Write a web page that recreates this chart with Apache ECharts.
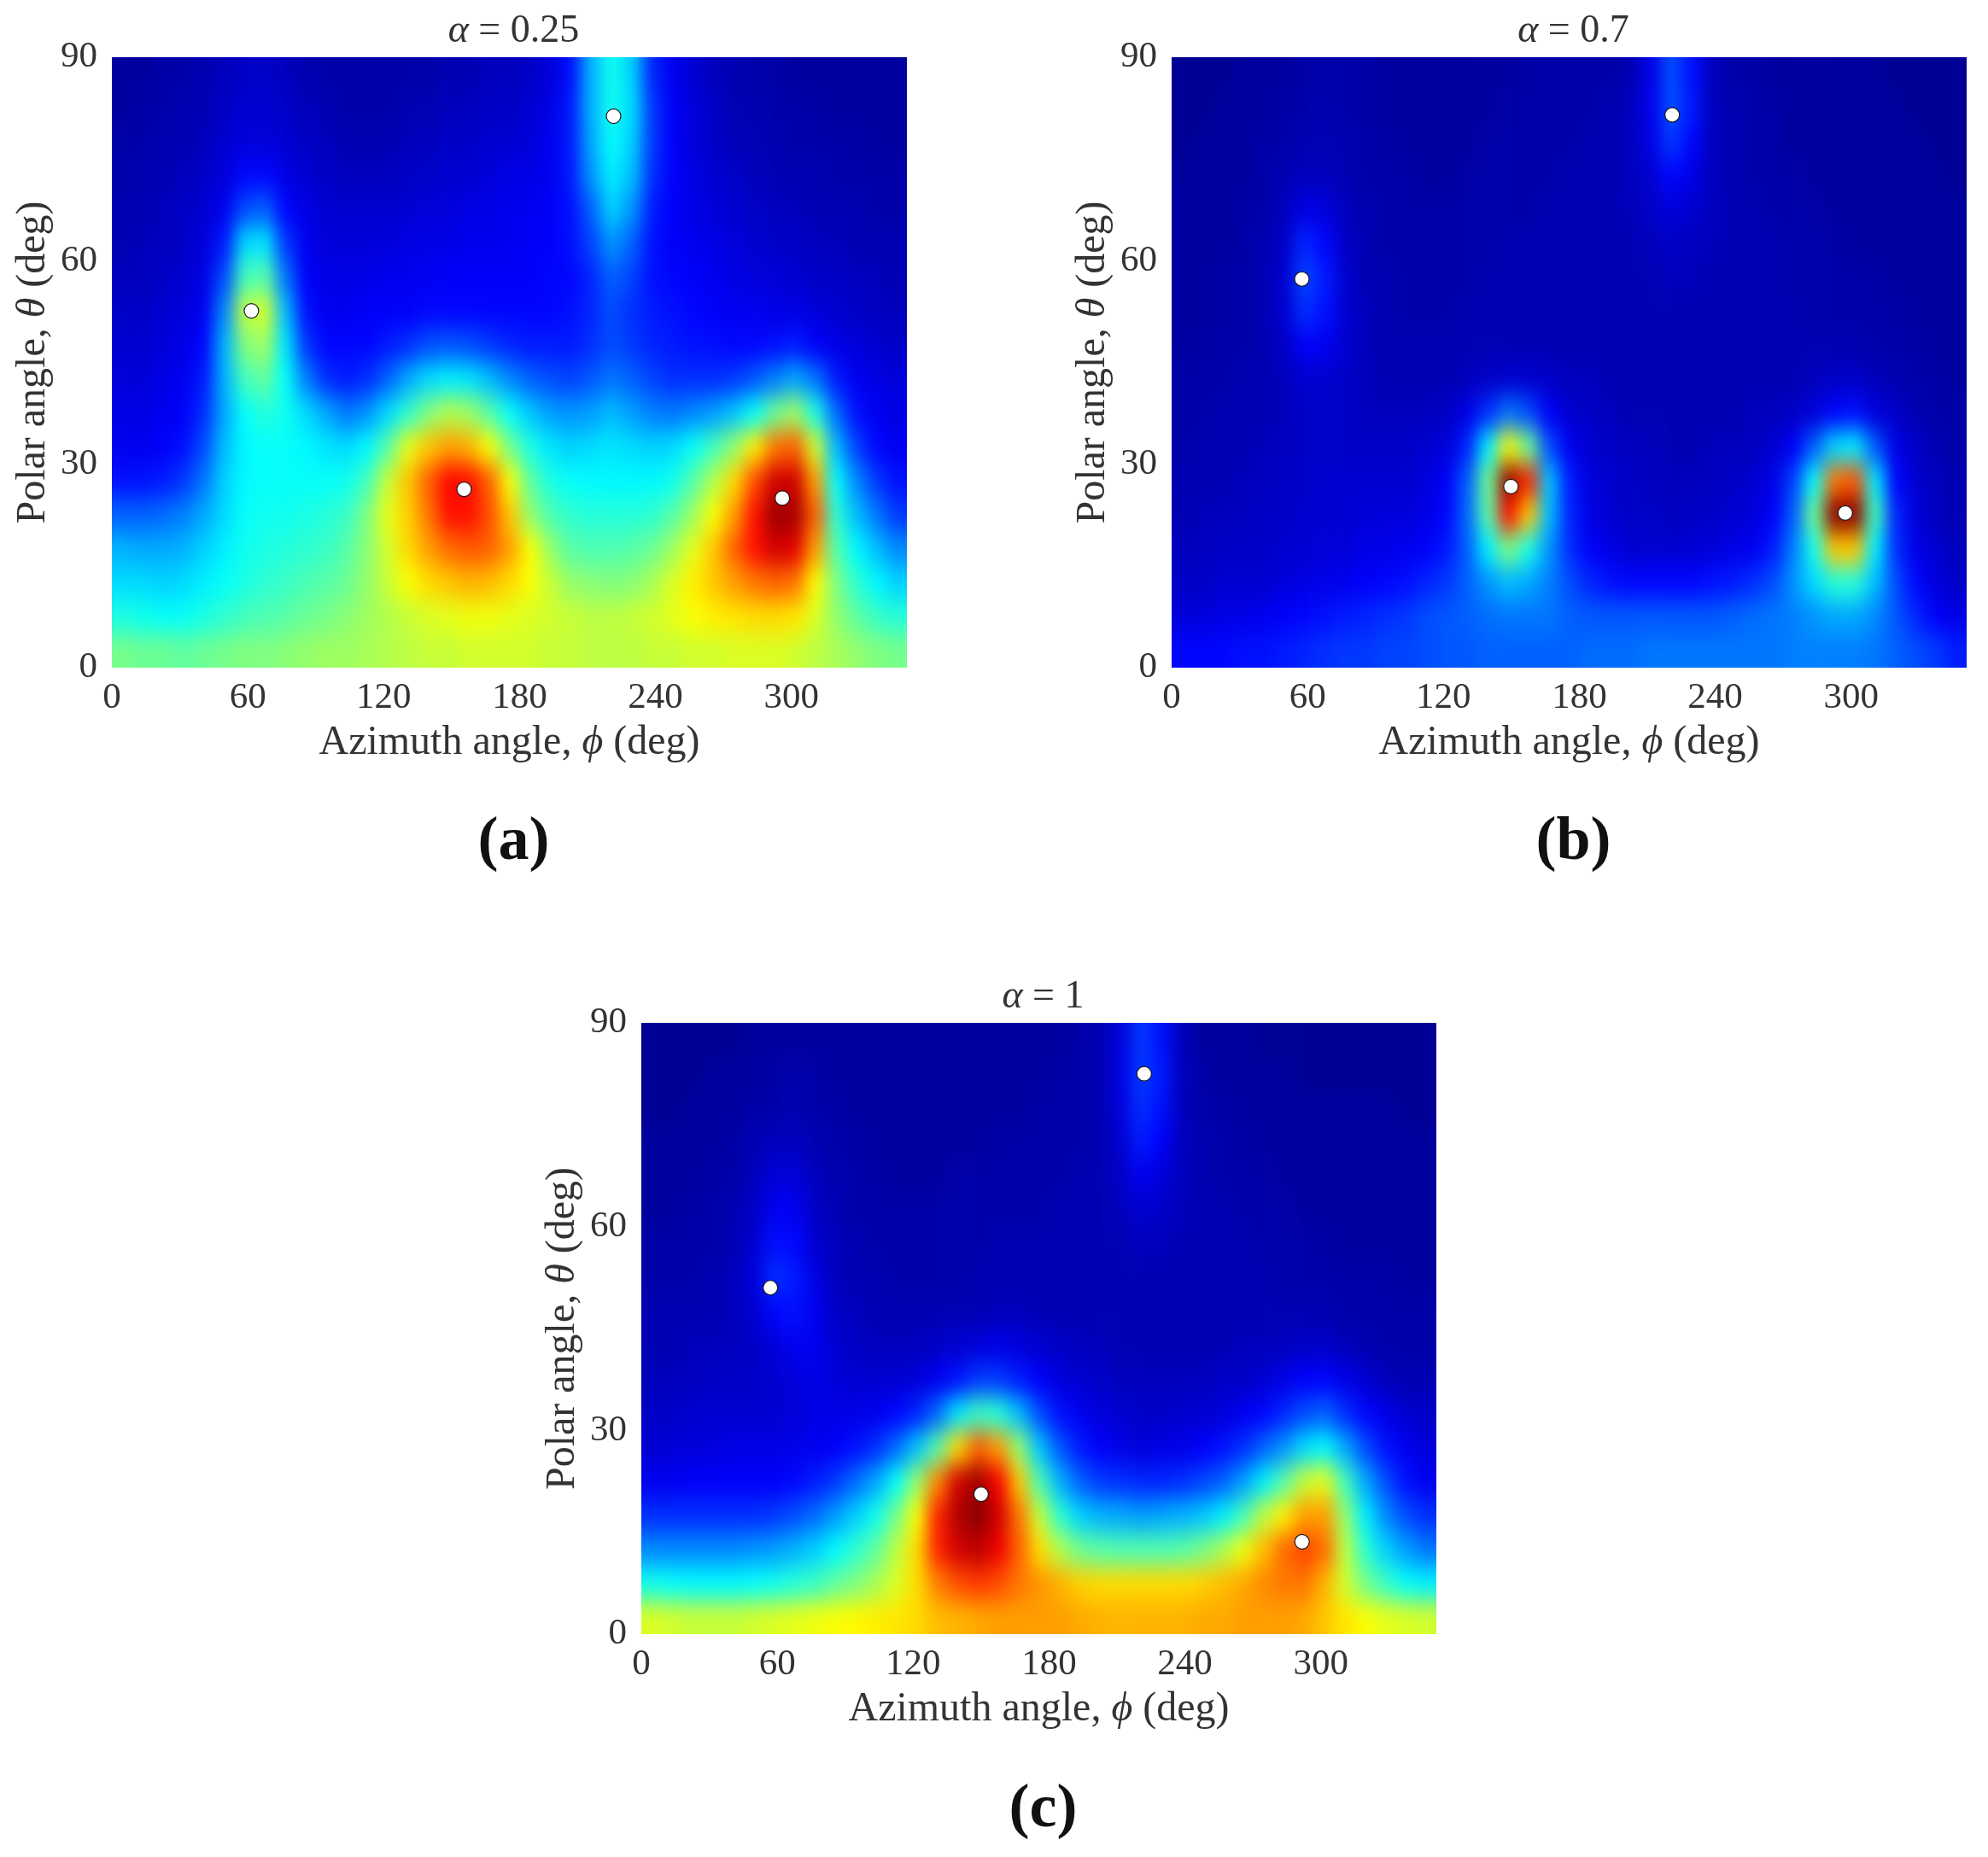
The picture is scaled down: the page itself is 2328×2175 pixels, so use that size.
<!DOCTYPE html>
<html><head><meta charset="utf-8">
<style>
html,body{margin:0;padding:0;background:#fff;width:2328px;height:2175px;overflow:hidden}
#main{position:absolute;left:0;top:0;width:2328px;height:2175px;z-index:5}
.clip{position:absolute;overflow:hidden;z-index:1}
.heat{position:absolute;filter:url(#soft)}
</style>
<script src="https://cdn.jsdelivr.net/npm/echarts@6/dist/echarts.min.js"></script>
</head><body>
<svg width="0" height="0" style="position:absolute"><filter id="soft" x="0" y="0" width="100%" height="100%" color-interpolation-filters="sRGB"><feGaussianBlur stdDeviation="9 14"/></filter></svg>
<div id="main"></div>
<script>
const phiCenters=[4.5,13.5,22.5,31.5,40.5,49.5,58.5,67.5,76.5,85.5,94.5,103.5,112.5,121.5,130.5,139.5,148.5,157.5,166.5,175.5,184.5,193.5,202.5,211.5,220.5,229.5,238.5,247.5,256.5,265.5,274.5,283.5,292.5,301.5,310.5,319.5,328.5,337.5,346.5];
const thetaCenters=[87.5,82.5,77.5,72.5,67.5,62.5,57.5,52.5,47.5,42.5,37.5,32.5,27.5,22.5,17.5,12.5,7.5,2.5];
const jetColors=['#000080','#0000ff','#0080ff','#00ffff','#80ff80','#ffff00','#ff8000','#ff0000','#800000'];
const xTicks=[0,60,120,180,240,300];
const yTicks=[0,30,60,90];

const fieldA=[
[3,3,4,4,5,6,7,7,6,5,4,4,4,4,4,4,5,5,6,6,7,9,14,30,39,33,16,11,8,6,5,4,4,3,3,3,3,3,3],
[3,4,4,5,5,7,8,8,7,6,5,4,4,4,5,5,6,6,7,7,8,10,15,30,39,34,18,12,9,7,5,5,4,4,4,3,3,3,3],
[4,4,5,5,6,8,9,9,8,7,6,5,5,5,6,6,7,7,8,8,9,11,15,29,38,33,18,12,9,7,6,5,5,4,4,4,4,3,3],
[4,5,5,6,7,9,13,13,10,8,7,6,6,6,7,7,8,8,9,10,10,11,15,27,36,31,17,12,10,8,7,6,5,5,5,4,4,4,4],
[5,5,6,7,8,11,20,22,13,10,8,8,8,8,8,9,9,10,10,11,11,12,14,22,33,27,15,12,10,9,8,7,6,6,5,5,5,4,4],
[5,6,6,7,9,15,34,35,18,11,9,9,9,9,10,10,10,11,11,11,12,12,14,19,27,22,14,12,11,10,9,8,7,7,6,6,5,5,5],
[6,6,7,8,10,20,44,46,24,12,10,10,10,11,11,11,12,12,12,12,12,13,13,16,22,19,14,13,12,11,10,9,9,8,7,7,6,6,5],
[7,7,8,9,11,26,56,58,31,14,11,11,12,12,12,13,13,13,13,13,13,13,14,16,20,17,15,14,13,12,11,11,10,10,9,8,7,6,6],
[8,8,9,10,13,30,50,53,35,18,13,13,13,15,17,20,21,20,18,16,15,15,15,17,20,18,16,15,14,14,13,13,14,15,12,10,9,8,7],
[9,9,10,11,15,30,44,47,38,25,17,15,17,22,29,34,36,35,31,26,22,20,19,21,24,22,19,17,17,17,18,21,25,29,24,15,11,10,9],
[10,10,11,12,17,29,38,41,39,34,29,24,27,34,42,50,55,53,46,38,32,28,27,28,31,28,25,24,26,28,32,38,48,53,40,23,14,11,10],
[11,11,12,14,20,31,37,38,38,37,35,34,37,46,60,68,72,70,62,49,40,35,33,34,35,34,33,34,38,44,52,64,76,78,58,31,19,13,11],
[14,14,15,18,24,33,37,38,38,38,38,39,44,57,68,78,87,86,78,62,47,40,38,37,37,37,37,39,46,55,66,80,92,92,72,38,26,18,14],
[22,22,23,25,29,34,38,39,39,40,41,43,50,60,67,76,86,86,80,68,52,45,42,41,41,41,42,46,53,62,72,86,97,96,78,42,31,24,18],
[30,29,29,30,33,36,39,40,41,42,43,46,51,58,66,72,77,79,78,72,62,52,46,45,45,46,48,53,60,68,78,86,92,90,72,46,37,31,26],
[34,34,33,34,36,38,40,42,43,45,46,48,52,57,62,66,68,70,69,66,62,57,52,51,50,51,54,59,64,68,72,76,78,76,63,50,42,37,33],
[40,39,38,38,40,42,44,45,46,48,49,51,53,55,57,59,60,61,61,60,59,58,57,56,56,57,58,60,62,64,65,66,66,65,59,52,47,43,41],
[49,48,48,47,48,49,50,50,51,52,53,53,54,55,56,57,57,58,58,58,58,57,57,56,56,56,57,57,58,58,59,59,59,58,56,54,52,50,49]];

const fieldB=[
[2,2,2,3,3,3,4,4,4,4,3,3,3,3,3,3,3,4,4,4,4,4,5,10,20,14,6,4,4,3,3,3,3,3,3,2,2,2,2],
[2,2,3,3,3,4,4,5,4,4,3,3,3,3,3,3,4,4,4,4,4,5,6,11,20,15,6,5,4,4,3,3,3,3,3,3,2,2,2],
[2,3,3,3,4,4,5,5,5,4,4,3,3,3,3,4,4,4,4,4,5,5,6,10,18,13,6,5,4,4,3,3,3,3,3,3,3,2,2],
[3,3,3,3,4,5,6,6,5,4,4,4,3,3,4,4,4,4,4,5,5,5,6,8,13,10,6,5,4,4,4,3,3,3,3,3,3,3,2],
[3,3,3,4,4,6,10,9,6,5,4,4,4,4,4,4,4,4,5,5,5,5,6,7,9,8,6,5,5,4,4,4,3,3,3,3,3,3,3],
[3,3,3,4,5,7,16,13,7,5,4,4,4,4,4,4,5,5,5,5,5,5,5,6,7,6,6,5,5,5,4,4,4,3,3,3,3,3,3],
[3,3,4,4,5,8,19,15,8,5,5,4,4,4,4,5,5,5,5,5,5,5,5,5,6,6,5,5,5,5,4,4,4,4,4,3,3,3,3],
[3,3,4,4,5,8,17,14,8,6,5,4,4,4,5,5,5,5,5,5,5,5,5,5,5,5,5,5,5,5,5,4,4,4,4,4,3,3,3],
[3,4,4,4,5,7,12,11,8,6,5,5,5,5,5,5,5,5,5,5,5,5,5,5,5,5,5,5,5,5,5,5,5,5,4,4,4,3,3],
[4,4,4,5,5,6,8,8,7,6,5,5,5,5,6,7,8,8,7,6,6,5,5,5,5,5,5,5,5,5,5,6,7,7,6,5,4,4,3],
[4,4,5,5,5,6,7,7,7,6,6,6,6,7,10,17,24,20,12,8,7,6,5,5,5,5,5,5,6,6,7,9,13,14,9,7,5,4,4],
[4,5,5,5,6,6,7,7,7,7,7,7,8,9,16,36,62,48,20,11,8,7,6,6,5,5,6,6,6,8,12,22,34,36,21,10,7,5,4],
[5,5,5,6,6,7,7,8,8,8,8,8,9,12,22,48,98,84,32,15,9,8,7,6,6,6,6,7,8,10,19,38,76,79,36,13,8,6,5],
[5,6,6,6,7,7,8,8,8,9,9,9,10,13,23,46,86,68,31,16,10,8,7,7,6,7,7,8,9,12,22,48,99,99,44,16,9,6,5],
[6,6,7,7,7,8,8,9,9,10,10,11,12,15,22,36,50,40,27,17,12,10,8,8,8,8,9,10,11,15,25,40,68,68,36,17,10,8,6],
[7,7,8,8,8,9,10,10,11,12,13,14,16,18,22,27,31,29,25,20,16,14,13,13,13,13,14,15,17,20,27,34,41,41,31,20,13,9,7],
[9,9,10,10,11,12,13,14,15,16,17,18,20,21,22,23,24,24,24,22,21,21,21,21,21,21,21,22,23,24,25,27,29,29,26,21,16,12,10],
[13,13,13,14,14,15,16,17,18,18,19,19,20,21,21,22,22,22,22,22,23,23,23,24,24,24,24,24,24,24,25,25,25,25,24,22,20,18,15]];

const fieldC=[
[2,2,2,2,2,3,3,3,3,3,3,3,3,3,3,3,3,3,3,3,3,4,5,9,18,14,6,3,3,3,2,2,2,2,2,2,2,2,2],
[2,2,2,3,3,3,4,4,4,3,3,3,3,3,3,3,3,3,3,3,4,4,5,10,18,15,6,4,3,3,3,3,2,2,2,2,2,2,2],
[2,2,3,3,3,4,4,5,4,4,3,3,3,3,3,3,3,3,3,4,4,4,5,9,17,14,6,4,4,3,3,3,3,3,3,3,3,2,2],
[3,3,3,3,4,5,6,6,5,4,4,3,3,3,3,3,3,4,4,4,4,4,5,8,15,12,6,5,4,4,3,3,3,3,3,3,3,3,3],
[3,3,3,4,4,6,9,9,6,5,4,4,3,3,3,4,4,4,4,4,4,5,5,7,11,9,6,5,4,4,4,3,3,3,3,3,3,3,3],
[3,3,4,4,5,7,11,11,7,5,4,4,4,4,4,4,4,4,4,4,5,5,5,6,8,7,6,5,5,4,4,4,3,3,3,3,3,3,3],
[4,4,4,4,5,8,14,13,8,6,5,4,4,4,4,4,4,5,5,5,5,5,5,5,6,6,5,5,5,5,4,4,4,4,3,3,3,3,3],
[4,4,4,5,6,9,17,15,10,6,5,5,4,4,4,4,5,5,5,5,5,5,5,5,5,5,5,5,5,5,5,4,4,4,4,4,4,3,3],
[5,5,5,5,6,8,13,14,11,7,6,5,5,5,5,5,5,6,6,5,5,5,5,5,5,5,5,5,5,5,5,5,5,5,4,4,4,4,4],
[5,5,6,6,6,7,9,11,11,8,7,6,6,6,7,8,9,10,9,8,7,6,6,5,5,5,5,5,5,6,6,6,7,7,6,5,4,4,4],
[6,6,6,7,7,7,8,9,10,9,8,8,8,9,11,14,18,18,15,12,9,8,7,6,6,6,6,6,7,7,8,10,12,13,10,8,6,5,5],
[7,7,8,8,8,8,8,9,10,10,10,11,13,16,23,35,43,41,31,20,14,11,9,8,7,7,8,8,9,11,13,16,20,22,17,13,10,8,7],
[8,9,9,9,10,10,10,10,11,12,14,17,23,32,46,66,78,72,52,32,21,15,12,10,9,10,10,12,14,17,22,27,34,37,29,20,14,11,9],
[11,11,12,12,12,12,12,13,15,18,23,29,38,52,74,92,97,88,68,45,30,22,18,17,16,16,17,19,22,28,36,46,57,60,44,29,20,14,11],
[17,17,17,17,17,17,18,20,23,28,33,39,49,62,84,95,99,92,76,57,42,33,30,29,28,29,30,32,36,44,56,64,72,72,52,36,26,20,17],
[26,26,26,26,26,27,28,30,33,37,42,47,56,66,84,92,94,89,78,66,55,48,46,45,45,45,46,49,54,61,69,77,81,77,56,42,33,28,24],
[39,38,37,37,37,38,39,41,43,47,50,54,59,66,75,80,82,80,76,73,70,67,66,66,66,66,66,67,69,71,74,76,76,70,58,49,43,38,36],
[59,58,57,57,57,58,59,60,61,62,63,64,65,66,69,70,71,72,72,72,72,71,70,70,70,70,70,71,71,72,72,72,71,68,65,62,60,59,58]];

const maximaA=[[61.6,52.6],[221.5,81.3],[155.5,26.3],[296,25]];
const maximaB=[[57.5,57.3],[221,81.5],[149.8,26.7],[297.4,22.8]];
const maximaC=[[57,51],[222,82.5],[150,20.6],[291.7,13.6]];
const panelTitles=['0.25','0.7','1'];
const panelLetters=['(a)','(b)','(c)'];

const panels=[
 {field:fieldA,points:maximaA,x:131,y:67,w:931,h:715,letterTop:946},
 {field:fieldB,points:maximaB,x:1372,y:67,w:931,h:715,letterTop:946},
 {field:fieldC,points:maximaC,x:751,y:1198,w:931,h:716,letterTop:2079}
];
const SERIF='"Liberation Serif","DejaVu Serif",serif', INK='#333333';
const PADC=4, PADR=3;

panels.forEach(function(p){
  const clip=document.createElement('div');clip.className='clip';
  clip.style.cssText+='left:'+p.x+'px;top:'+p.y+'px;width:'+p.w+'px;height:'+p.h+'px';
  const cw=p.w/phiCenters.length, ch=p.h/thetaCenters.length;
  const hw=Math.round(p.w+2*PADC*cw), hh=Math.round(p.h+2*PADR*ch);
  const heat=document.createElement('div');heat.className='heat';
  heat.style.cssText+='left:'+(-(hw-p.w)/2)+'px;top:'+(-(hh-p.h)/2)+'px;width:'+hw+'px;height:'+hh+'px';
  clip.appendChild(heat);document.body.appendChild(clip);
  const nx=phiCenters.length, ny=thetaCenters.length, cells=[];
  for(let j=-PADR;j<ny+PADR;j++)for(let i=-PADC;i<nx+PADC;i++){
    const r=Math.min(ny-1,Math.max(0,j)), c=Math.min(nx-1,Math.max(0,i));
    cells.push([i+PADC,ny+PADR-1-j,p.field[r][c]]);
  }
  const xc=[],yc=[];
  for(let i=0;i<nx+2*PADC;i++)xc.push(String(i));
  for(let j=0;j<ny+2*PADR;j++)yc.push(String(j));
  echarts.init(heat,null,{renderer:'canvas'}).setOption({
    animation:false,
    grid:{left:0,top:0,right:0,bottom:0},
    xAxis:{type:'category',data:xc,show:false},
    yAxis:{type:'category',data:yc,show:false},
    visualMap:{show:false,min:0,max:100,inRange:{color:jetColors}},
    series:[{type:'heatmap',data:cells,progressive:0,itemStyle:{borderWidth:0}}]
  });
});

const grids=[],xA=[],yA=[],series=[],titles=[];
const rich={i:{fontFamily:SERIF,fontStyle:'italic',fontSize:48,color:INK}};
panels.forEach(function(p,k){
  grids.push({left:p.x,top:p.y,width:p.w,height:p.h,containLabel:false});
  xA.push({type:'value',gridIndex:k,min:0,max:351,
    axisLine:{show:false},axisTick:{show:false},splitLine:{show:false},
    axisLabel:{customValues:xTicks,fontFamily:SERIF,fontSize:43,color:INK,margin:14},
    name:'Azimuth angle, {i|\u03d5} (deg)',nameLocation:'middle',nameGap:64,
    nameTextStyle:{fontFamily:SERIF,fontSize:48,color:INK,rich:rich}});
  yA.push({type:'value',gridIndex:k,min:0,max:90,
    axisLine:{show:false},axisTick:{show:false},splitLine:{show:false},
    axisLabel:{customValues:yTicks,fontFamily:SERIF,fontSize:43,color:INK,margin:17},
    name:'Polar angle, {i|\u03b8} (deg)',nameLocation:'middle',nameGap:68,
    nameTextStyle:{fontFamily:SERIF,fontSize:48,color:INK,rich:rich}});
  series.push({type:'scatter',xAxisIndex:k,yAxisIndex:k,data:p.points,symbol:'circle',symbolSize:17,
    itemStyle:{color:'#fff',borderColor:'#1a1a1a',borderWidth:1.2,opacity:1},z:5});
  titles.push({text:'{i|\u03b1} = '+panelTitles[k],left:p.x+p.w/2,top:p.y-58,textAlign:'center',
    textStyle:{fontFamily:SERIF,fontSize:46,fontWeight:'normal',color:INK,rich:{i:{fontFamily:SERIF,fontStyle:'italic',fontSize:46,color:INK}}}});
  titles.push({text:panelLetters[k],left:p.x+p.w/2,top:p.letterTop,textAlign:'center',
    textStyle:{fontFamily:SERIF,fontSize:72,fontWeight:'bold',color:'#111'}});
});
echarts.init(document.getElementById('main'),null,{renderer:'canvas'}).setOption({
  animation:false,backgroundColor:'transparent',
  title:titles,grid:grids,xAxis:xA,yAxis:yA,series:series
});
</script>
</body></html>
